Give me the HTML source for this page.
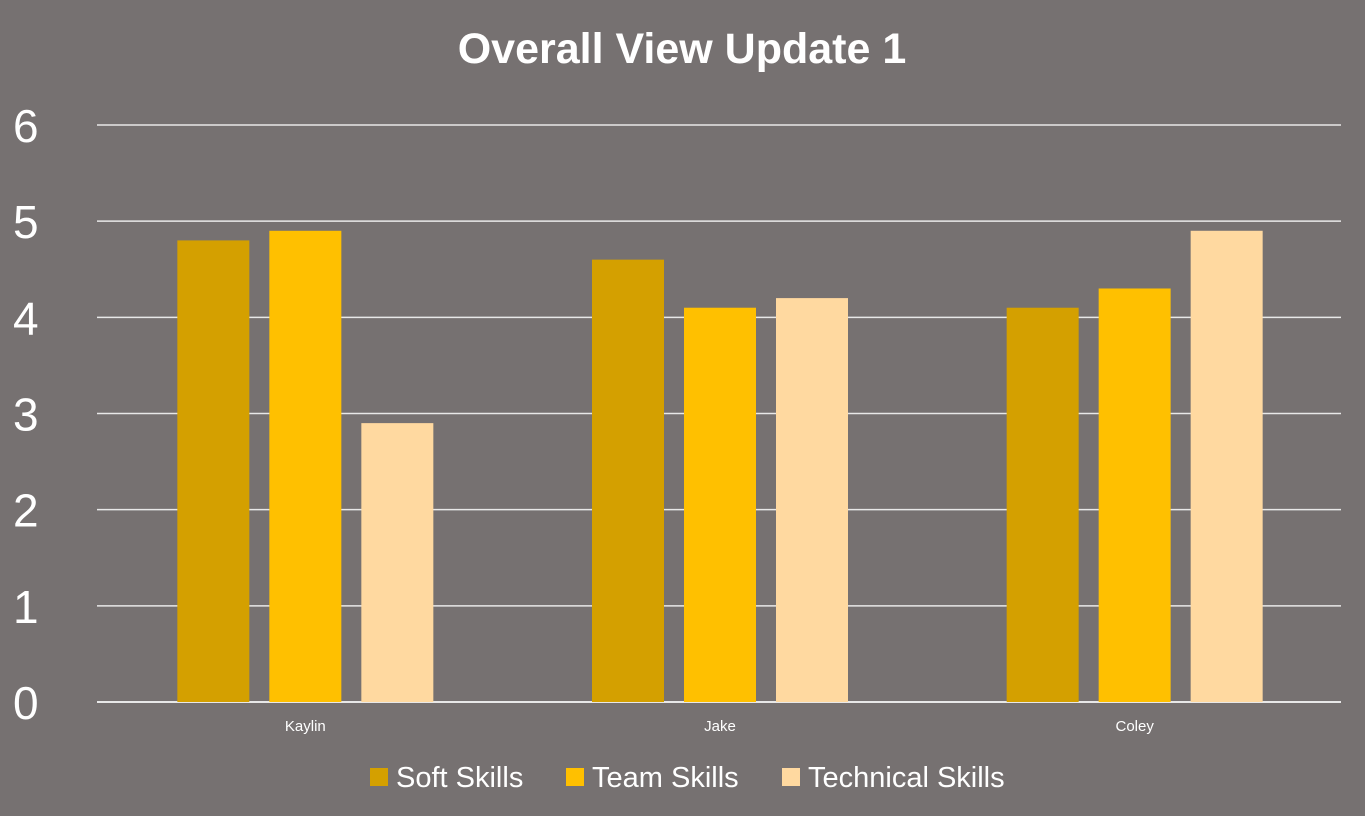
<!DOCTYPE html>
<html><head><meta charset="utf-8"><style>
body{margin:0;background:#767171;}
svg{display:block;font-family:"Liberation Sans",sans-serif;}
</style></head><body>
<svg width="1365" height="816">
<rect width="1365" height="816" fill="#767171"/>
<text x="682" y="63" text-anchor="middle" fill="#fff" font-size="43" font-weight="bold">Overall View Update 1</text>
<g id="grid"></g><g id="bars"></g><g id="labels"></g><g id="legend"></g>
</svg>
<script>
const categories=["Kaylin","Jake","Coley"];
const seriesNames=["Soft Skills","Team Skills","Technical Skills"];
const softSkills=[4.8,4.6,4.1];
const teamSkills=[4.9,4.1,4.3];
const technicalSkills=[2.9,4.2,4.9];
const yTicks=[0,1,2,3,4,5,6];
const colors=["#D4A000","#FFC000","#FFD9A0"];
const series=[softSkills,teamSkills,technicalSkills];
const NS="http://www.w3.org/2000/svg";
const x0=98,x1=1342,yBase=702,yTop=125,yMax=6;
const y=v=>yBase-(v/yMax)*(yBase-yTop);
const catW=(x1-x0)/categories.length;
const cx=i=>x0+catW*(i+0.5);
function mk(t,a,p){const e=document.createElementNS(NS,t);for(const k in a)e.setAttribute(k,a[k]);p.appendChild(e);return e;}
const g=document.getElementById('grid');
yTicks.forEach(t=>{
 const l=mk('line',{x1:97,x2:1341,y1:y(t),y2:y(t),stroke:'#e8e8e8','stroke-width':t===0?2:1.5},g);
 
 
 const tx=mk('text',{x:13,y:y(t)+17,fill:'#fff','font-size':46},g);
 tx.textContent=t;
 
 
});
const b=document.getElementById('bars');
categories.forEach((c,i)=>{
 series.forEach((s,j)=>{
  const r=mk('rect',{x:cx(i)+(j-1)*92-36,y:y(s[i]),width:72,height:yBase-y(s[i]),fill:colors[j]},b);
  
  
 });
 const t=mk('text',{x:cx(i),y:731,fill:'#fff','font-size':15,'text-anchor':'middle'},document.getElementById('labels'));
 t.textContent=c;
 
 
});
const lg=document.getElementById('legend');
const lx=[370,566,782];
seriesNames.forEach((n,j)=>{
 const r=mk('rect',{x:lx[j],y:768,width:18,height:18,fill:colors[j]},lg);
 
 
 const t=mk('text',{x:lx[j]+26,y:787,fill:'#fff','font-size':29},lg);
 t.textContent=n;
 
 
});
</script>
</body></html>
